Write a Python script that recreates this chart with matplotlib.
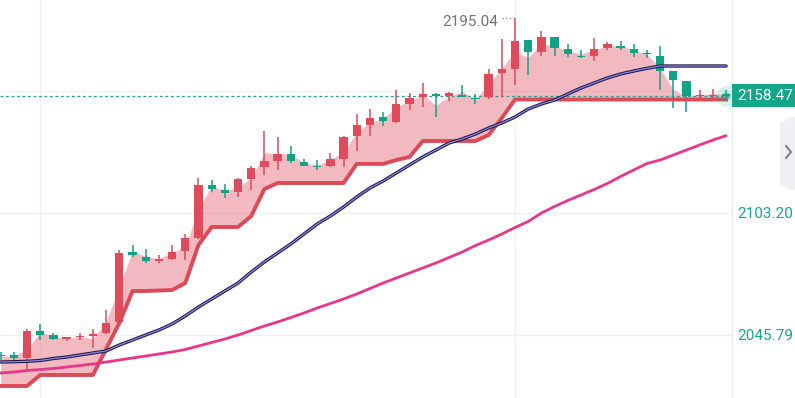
import matplotlib
matplotlib.use("Agg")
import matplotlib.pyplot as plt
import numpy as np
from matplotlib.patches import Polygon
from matplotlib.lines import Line2D
from matplotlib import transforms

plt.rcParams['font.family'] = ['Roboto', 'DejaVu Sans']

# ---------------- data ----------------
opens = [2036.14, 2036.38, 2034.83, 2047.81, 2045.79, 2044.05, 2044.85, 2045.32, 2046.59, 2052.05,
         2084.99, 2082.63, 2080.47, 2081.55, 2085.32, 2091.57, 2116.23, 2114.02, 2112.94, 2119.20,
         2124.70, 2127.81, 2130.96, 2127.34, 2125.46, 2125.32, 2128.61, 2139.43, 2144.61, 2148.51,
         2146.16, 2154.63, 2157.64, 2159.06, 2158.40, 2158.58, 2157.46, 2157.64, 2168.94, 2170.96,
         2184.47, 2178.82, 2186.16, 2180.23, 2177.08, 2177.08, 2180.70, 2181.78, 2180.23, 2178.35,
         2177.22, 2170.02, 2165.45, 2158.26, 2158.26, 2158.73]
closes = [2035.67, 2034.97, 2047.67, 2045.79, 2044.05, 2044.71, 2045.18, 2046.12, 2051.58, 2084.52,
          2083.43, 2080.75, 2081.41, 2084.99, 2091.57, 2116.23, 2114.63, 2112.75, 2119.20, 2124.52,
          2127.67, 2130.96, 2127.67, 2125.32, 2124.84, 2128.61, 2139.10, 2144.47, 2147.90, 2146.49,
          2154.49, 2157.46, 2159.06, 2158.26, 2159.81, 2157.64, 2156.84, 2168.61, 2170.96, 2184.28,
          2178.82, 2186.16, 2180.70, 2177.88, 2176.61, 2180.23, 2182.72, 2180.84, 2178.35, 2177.88,
          2170.16, 2165.78, 2158.26, 2158.73, 2158.73, 2158.47]
highs = [2037.79, 2037.93, 2048.61, 2050.97, 2046.87, 2044.85, 2046.59, 2048.61, 2057.55, 2085.79,
         2088.14, 2086.12, 2083.43, 2088.14, 2093.32, 2119.81, 2118.73, 2116.85, 2119.81, 2125.32,
         2141.93, 2139.10, 2134.73, 2128.47, 2128.14, 2131.57, 2139.43, 2149.79, 2152.00, 2150.87,
         2161.08, 2159.81, 2164.51, 2159.53, 2160.28, 2163.29, 2159.20, 2170.82, 2184.94, 2195.04,
         2184.61, 2188.84, 2186.25, 2182.72, 2179.90, 2185.41, 2183.52, 2184.28, 2182.72, 2179.90,
         2181.78, 2170.02, 2165.45, 2161.08, 2161.41, 2161.08]
lows = [2034.02, 2034.02, 2029.32, 2043.43, 2043.43, 2042.97, 2043.43, 2039.53, 2046.26, 2051.44,
        2082.35, 2079.53, 2079.81, 2081.08, 2081.08, 2090.82, 2113.22, 2110.40, 2110.87, 2114.02,
        2121.08, 2123.43, 2126.87, 2125.08, 2123.43, 2124.70, 2124.70, 2132.37, 2139.43, 2144.14,
        2145.41, 2151.67, 2153.22, 2148.23, 2155.90, 2157.55, 2154.35, 2156.70, 2157.78, 2163.43,
        2168.14, 2177.08, 2177.08, 2176.47, 2176.00, 2174.73, 2179.90, 2179.90, 2176.75, 2176.00,
        2161.08, 2152.47, 2150.58, 2157.17, 2157.17, 2156.84]
supertrend = [2021.79, 2021.79, 2021.79, 2026.97, 2026.97, 2026.97, 2026.97, 2026.97, 2039.20, 2051.44,
              2066.49, 2066.49, 2066.73, 2066.96, 2070.26, 2088.14, 2096.61, 2096.61, 2096.61, 2101.79,
              2114.49, 2117.32, 2117.32, 2117.32, 2117.32, 2117.32, 2117.32, 2126.30, 2126.30, 2126.30,
              2128.14, 2129.55, 2137.08, 2137.08, 2137.08, 2137.08, 2137.08, 2139.90, 2147.90, 2156.61,
              2156.61, 2156.61, 2156.61, 2156.61, 2156.61, 2156.61, 2156.61, 2156.61, 2156.61, 2156.61,
              2156.61, 2156.61, 2156.61, 2156.61, 2156.61, 2156.61]
ma_fast = [2033.08, 2033.22, 2033.41, 2033.79, 2034.73, 2035.43, 2036.38, 2037.32, 2038.26, 2041.08,
           2043.43, 2045.79, 2048.14, 2050.97, 2054.73, 2058.96, 2062.73, 2066.49, 2070.26, 2075.43,
           2080.14, 2084.37, 2088.61, 2093.32, 2098.02, 2101.79, 2106.03, 2110.73, 2114.96, 2118.25,
           2122.02, 2125.79, 2129.55, 2132.84, 2136.14, 2138.02, 2140.37, 2143.20, 2145.55, 2148.38,
           2152.14, 2154.49, 2156.37, 2159.20, 2162.02, 2164.37, 2166.73, 2168.61, 2170.02, 2171.29,
           2172.37, 2172.37, 2172.37, 2172.37, 2172.37, 2172.37]
ma_slow = [2027.91, 2028.38, 2029.08, 2029.55, 2030.03, 2030.73, 2031.44, 2032.14, 2033.08, 2034.02,
           2034.97, 2035.91, 2036.85, 2037.79, 2038.97, 2040.61, 2042.26, 2043.90, 2045.79, 2047.91,
           2050.03, 2051.91, 2054.02, 2056.14, 2058.50, 2060.61, 2062.73, 2065.08, 2067.67, 2070.26,
           2072.61, 2074.97, 2077.32, 2079.67, 2082.26, 2084.85, 2087.90, 2090.49, 2093.32, 2096.38,
           2099.20, 2103.20, 2106.26, 2109.08, 2111.67, 2114.26, 2117.08, 2120.38, 2123.43, 2126.49,
           2128.14, 2130.49, 2132.84, 2135.20, 2137.55, 2139.57]
price_ticks = [2045.79, 2103.20, 2160.61]
price_tick_labels = ['2045.79', '2103.20', '']
last_price = 2158.47
max_price = 2195.04
max_index = 39
vgrid_index = [3, 39]

RED = '#df4b5a'
GREEN = '#12a386'
TEAL = '#13a689'

# ---------------- figure ----------------
W, H = 795, 398
fig = plt.figure(figsize=(W / 100, H / 100), dpi=100)
ax = fig.add_axes([0, 0, 732 / W, 1])

o = np.array(opens); c = np.array(closes); h = np.array(highs); l = np.array(lows)
x = np.arange(len(o))
up = c >= o
cols = np.where(up, RED, GREEN)

hl2 = (h + l) / 2
ax.fill_between(x, supertrend, hl2, color=RED, alpha=0.38, lw=0, zorder=1)

ax.vlines(x, l, h, colors=cols, lw=1.1, zorder=3)
body_bottom = np.minimum(o, c)
body_h = np.maximum(np.abs(c - o), 0.5)
ax.bar(x, body_h, bottom=body_bottom, width=0.63, color=cols, lw=0, zorder=4)

ax.plot(x, supertrend, color='#dc4a58', lw=2.8, zorder=4.5, solid_joinstyle='round')
ax.plot(x, ma_slow, color='#e8368a', lw=2.0, zorder=5, solid_capstyle='round')
ax.plot(x, ma_fast, color='#1c1b45', lw=2.4, zorder=6, solid_capstyle='round')
ax.plot(x, ma_fast, color='#8f82ea', lw=0.9, zorder=7, solid_capstyle='round')

# last price line and glow
ax.axhline(last_price, color='#1fa38b', lw=0.9, dashes=(2.2, 2.2), zorder=2)
ax.scatter([x[-1]], [last_price], s=220, color=TEAL, alpha=0.16, lw=0, zorder=8)
ax.scatter([x[-1]], [last_price], s=40, color=TEAL, alpha=0.35, lw=0, zorder=8)

# max annotation
ax.plot([max_index - 0.95, max_index], [max_price, max_price], color='#8a8e98',
        lw=1.0, ls=(0, (1, 1.6)), zorder=8)
ax.annotate(f'{max_price:.2f}', xy=(max_index, max_price), xytext=(-17, -4.5),
            textcoords='offset pixels', ha='right', va='center', fontsize=11,
            color='#6f737c', zorder=9)

ax.set_xlim(-0.047, 55.45)
ax.set_ylim(2016.14, 2203.43)

ax.yaxis.tick_right()
ax.set_yticks(price_ticks)
ax.set_yticklabels(price_tick_labels)
ax.set_xticks(vgrid_index)
ax.set_xticklabels([])
ax.tick_params(axis='y', length=0, pad=4, labelsize=11, labelcolor='#14a88b')
ax.tick_params(axis='x', length=0)
ax.grid(True, color='#f0f1f5', lw=1)
ax.set_axisbelow(True)
for s in ['left', 'top', 'bottom']:
    ax.spines[s].set_visible(False)
ax.spines['right'].set_color('#ebecf0')
ax.spines['right'].set_linewidth(1)

# last price box
trans = transforms.blended_transform_factory(ax.transAxes, ax.transData)
ax.annotate('2158.47', xy=(1.0, last_price), xycoords=trans, xytext=(5, 0),
            textcoords='offset pixels', ha='left', va='center',
            fontsize=11, color='white', annotation_clip=False, zorder=10,
            bbox=dict(boxstyle='square,pad=0.3', fc=TEAL, ec='none'))

# side panel button
def f(px, py):
    return (px / W, 1 - py / H)
panel = Polygon([f(790, 117), f(796, 117), f(796, 190), f(790, 190), f(780, 184), f(780, 123)],
                closed=True, transform=fig.transFigure, fc='#eef0f3', ec='none')
fig.add_artist(panel)
chev = Line2D([786 / W, 791 / W, 786 / W], [1 - 146 / H, 1 - 152 / H, 1 - 158 / H],
              transform=fig.transFigure, color='#6f7480', lw=1.3)
fig.add_artist(chev)

fig.savefig('out.png', dpi=100)
